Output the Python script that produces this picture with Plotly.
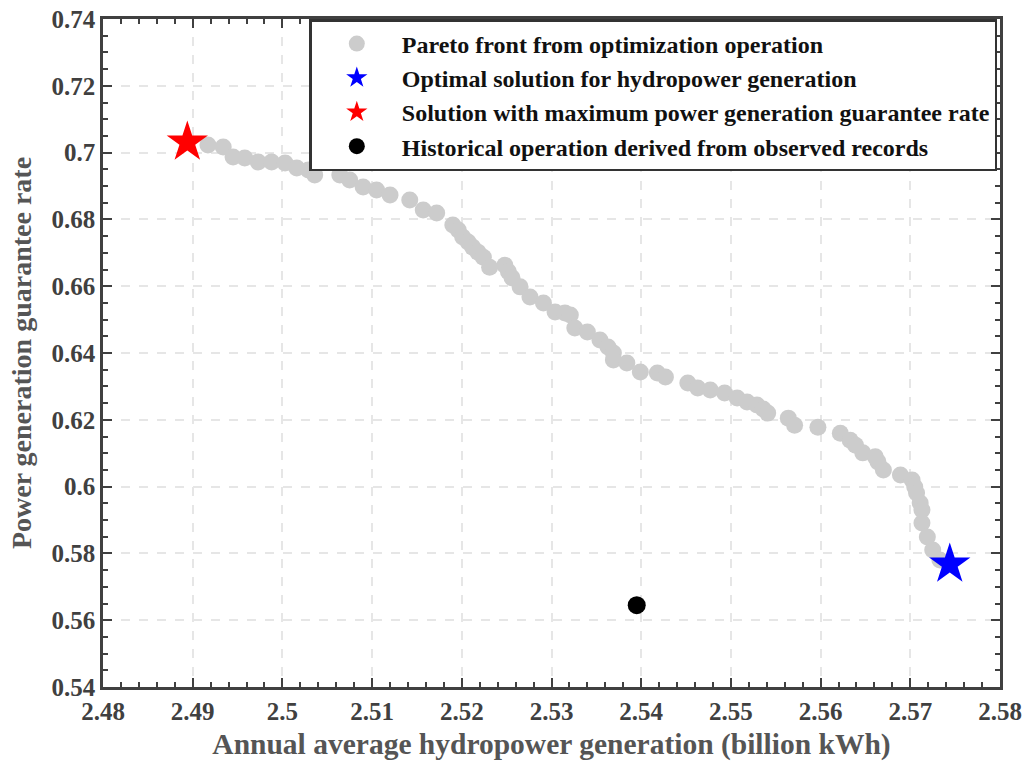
import plotly.graph_objects as go

# Pareto front (annual average hydropower generation, guarantee rate)
pareto_x = [2.4917, 2.4934, 2.4945, 2.4958, 2.4973, 2.4988, 2.5003, 2.5016, 2.5029, 2.5036,
            2.5064, 2.5075, 2.5090, 2.5105, 2.5120, 2.5142, 2.5157, 2.5172, 2.5190, 2.5196,
            2.5201, 2.5207, 2.5212, 2.5218, 2.5224, 2.5231, 2.5248, 2.5252, 2.5256, 2.5265,
            2.5276, 2.5291, 2.5304, 2.5315, 2.5321, 2.5326, 2.5340, 2.5354, 2.5363, 2.5369,
            2.5369, 2.5384, 2.5399, 2.5418, 2.5427, 2.5452, 2.5463, 2.5477, 2.5493, 2.5507,
            2.5518, 2.5529, 2.5536, 2.5541, 2.5564, 2.5571, 2.5597, 2.5622, 2.5633, 2.5639,
            2.5647, 2.5661, 2.5664, 2.5670, 2.5689, 2.5702, 2.5705, 2.5707, 2.5711, 2.5713,
            2.5713, 2.5719, 2.5725, 2.5733]
pareto_y = [0.7023, 0.7017, 0.6987, 0.6984, 0.6972, 0.6972, 0.6969, 0.6954, 0.6948, 0.6933,
            0.6933, 0.6918, 0.6897, 0.6888, 0.6873, 0.6858, 0.6828, 0.6819, 0.6783, 0.6768,
            0.6747, 0.6732, 0.6717, 0.6702, 0.6687, 0.6657, 0.6663, 0.6643, 0.6625, 0.6598,
            0.6568, 0.6550, 0.6523, 0.6520, 0.6514, 0.6475, 0.6463, 0.6439, 0.6418, 0.6400,
            0.6379, 0.6370, 0.6343, 0.6340, 0.6328, 0.6310, 0.6295, 0.6289, 0.6280, 0.6265,
            0.6253, 0.6244, 0.6232, 0.6220, 0.6205, 0.6184, 0.6178, 0.6160, 0.6139, 0.6124,
            0.6101, 0.6089, 0.6074, 0.6050, 0.6035, 0.6020, 0.5999, 0.5981, 0.5951, 0.5930,
            0.5891, 0.5849, 0.5810, 0.5780]

optimal_hydro = (2.5744, 0.5768)
max_guarantee = (2.4894, 0.7031)
historical = (2.5395, 0.5645)

series_names = [
    "Pareto front from optimization operation",
    "Optimal solution for hydropower generation",
    "Solution with maximum power generation guarantee rate",
    "Historical operation derived from observed records",
]

x_ticks = [2.48, 2.49, 2.50, 2.51, 2.52, 2.53, 2.54, 2.55, 2.56, 2.57, 2.58]
x_labels = ["2.48", "2.49", "2.5", "2.51", "2.52", "2.53", "2.54", "2.55", "2.56", "2.57", "2.58"]
y_ticks = [0.54, 0.56, 0.58, 0.60, 0.62, 0.64, 0.66, 0.68, 0.70, 0.72, 0.74]
y_labels = ["0.54", "0.56", "0.58", "0.6", "0.62", "0.64", "0.66", "0.68", "0.7", "0.72", "0.74"]

FONT = "Liberation Serif"
AXCOL = "#404040"

fig = go.Figure()
fig.add_trace(go.Scatter(x=pareto_x, y=pareto_y, mode="markers", name=series_names[0],
                         marker=dict(color="#cccccc", size=17, line=dict(width=0))))
fig.add_trace(go.Scatter(x=[optimal_hydro[0]], y=[optimal_hydro[1]], mode="markers", name=series_names[1],
                         marker=dict(color="#0000ff", size=31, symbol="star", line=dict(width=0))))
fig.add_trace(go.Scatter(x=[max_guarantee[0]], y=[max_guarantee[1]], mode="markers", name=series_names[2],
                         marker=dict(color="#ff0000", size=31, symbol="star", line=dict(width=0))))
fig.add_trace(go.Scatter(x=[historical[0]], y=[historical[1]], mode="markers", name=series_names[3],
                         marker=dict(color="#000000", size=18, line=dict(width=0))))

axis_common = dict(
    automargin=False,
    showline=True, linecolor=AXCOL, linewidth=2.5, mirror="allticks",
    ticks="inside", ticklen=9, tickwidth=2, tickcolor=AXCOL,
    showgrid=True, gridcolor="#e6e6e6", griddash="dash", gridwidth=1.5,
    zeroline=False,
    tickfont=dict(family=FONT, size=25, color=AXCOL, weight="bold"),
)

fig.update_xaxes(
    range=[2.48, 2.58], tickvals=x_ticks, ticktext=x_labels,
    minor=dict(dtick=0.002, tick0=2.48, ticks="inside", ticklen=5, tickwidth=2, tickcolor=AXCOL, showgrid=False),
    title=dict(text="Annual average hydropower generation (billion kWh)",
               font=dict(family=FONT, size=29.5, color="#555555", weight="bold"), standoff=10),
    **axis_common,
)
fig.update_yaxes(
    range=[0.54, 0.74], tickvals=y_ticks, ticktext=y_labels,
    minor=dict(dtick=0.005, tick0=0.54, ticks="inside", ticklen=5, tickwidth=2, tickcolor=AXCOL, showgrid=False),
    title=dict(text="Power generation guarantee rate",
               font=dict(family=FONT, size=28, color="#555555", weight="bold"), standoff=12),
    **axis_common,
)

fig.update_layout(
    width=1024, height=766,
    margin=dict(l=103, r=24, t=19, b=79),
    plot_bgcolor="white", paper_bgcolor="white",
    legend=dict(
        x=0.997, xanchor="right", y=1.0, yanchor="top",
        bgcolor="white", bordercolor="#333333", borderwidth=2.5,
        font=dict(family=FONT, size=24, color="#111111", weight="bold"),
        itemsizing="trace", itemwidth=80, tracegroupgap=0,
    ),
)

fig.write_html("out.html")
